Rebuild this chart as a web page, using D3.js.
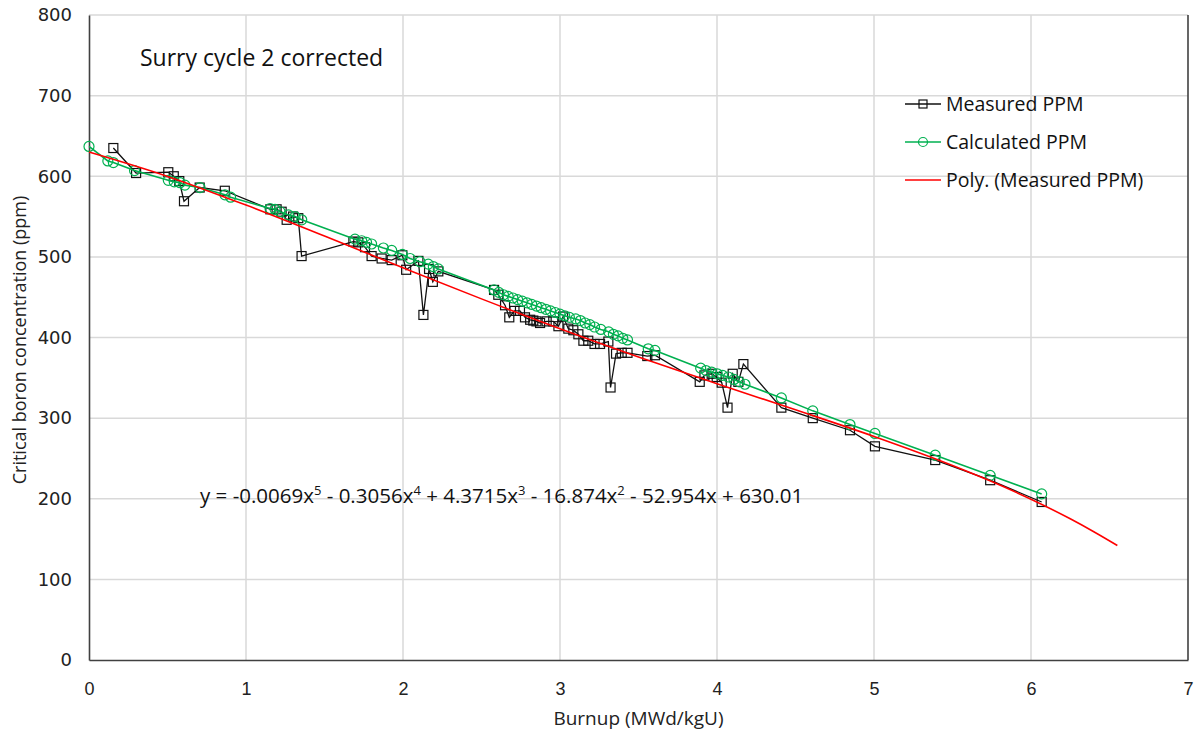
<!DOCTYPE html>
<html>
<head>
<meta charset="utf-8">
<script src="https://cdn.jsdelivr.net/npm/d3@7"></script>
<style>
  html, body { margin: 0; padding: 0; background: #fff; }
  svg { display: block; }
</style>
</head>
<body>
<svg id="chart" width="1196" height="738"></svg>
<script>
// ---- data ----
const measuredX = [0.155,0.30,0.505,0.54,0.575,0.605,0.705,0.865,1.155,1.195,1.227,1.259,1.30,1.333,1.354,
  1.684,1.715,1.758,1.80,1.864,1.928,1.996,2.02,2.098,2.13,2.166,2.19,2.225,
  2.58,2.607,2.65,2.677,2.71,2.745,2.777,2.81,2.83,2.85,2.873,2.915,2.957,2.99,3.02,3.053,3.085,3.117,3.149,3.18,3.22,3.255,3.308,3.322,3.357,3.393,3.43,3.556,3.605,
  3.89,3.92,3.966,3.998,4.03,4.067,4.10,4.136,4.168,4.41,4.61,4.847,5.006,5.39,5.74,6.068];
const measuredY = [635,604,605,600,594,569,586,582,559,559,556,546,550,548,501,
  519,518,512,501,498,496,502,484,495,428,485,469,482,
  459,453,440,425,433,433,425,422,421,420,418,420,420,414,426,411,409,404,396,396,392,392,395,338,380,381,381,377,378,
  345,353,355,351,344,313,355,345,367,313,300,285,265,248,223,196];

const calcX = [0.0,0.12,0.155,0.29,0.505,0.543,0.58,0.611,0.707,0.866,0.902,1.153,1.185,1.217,1.27,1.312,1.355,
  1.694,1.737,1.768,1.80,1.875,1.928,1.996,2.045,2.108,2.161,2.193,2.225,
  2.58,2.61,2.64,2.67,2.70,2.73,2.76,2.79,2.82,2.85,2.88,2.91,2.94,2.97,3.00,3.03,3.06,3.10,3.13,3.16,3.19,3.22,3.26,3.31,3.34,3.37,3.40,3.43,
  3.562,3.605,3.896,3.93,3.966,4.002,4.036,4.072,4.108,4.142,4.178,4.41,4.61,4.847,5.006,5.39,5.74,6.068];
const calcY = [637,619,617,607,595,593,592,589,586,577,574,560,559,556,552,550,546,
  522,520,518,516,511,508,503,498,494,491,488,485,
  459,456,453,451,449,447,445,443,441,439,437,435,433,431,429,427,425,423,421,418,416,413,410,407,404,402,399,397,
  386,384,362,359,357,355,353,351,348,345,342,325,309,292,281,254,229,206];

// polynomial trend line (Poly. Measured PPM)
const polyX = [0,0.5,1,1.5,2,2.5,3,3.5,4,4.5,5,5.5,5.75,6,6.25,6.4,6.55];
const polyY = [630.0,599.8,564.2,525.8,486.5,447.9,410.9,375.9,342.7,310.3,277.3,241.3,221.3,199.4,175.1,159.1,142.0];

const xTicks = [0,1,2,3,4,5,6,7];
const yTicks = [0,100,200,300,400,500,600,700,800];

const seriesNames = ["Measured PPM","Calculated PPM","Poly. (Measured PPM)"];
const chartTitle = "Surry cycle 2 corrected";
const xTitle = "Burnup (MWd/kgU)";
const yTitle = "Critical boron concentration (ppm)";

// ---- drawing ----
(function () {
const svg = d3.select("#chart");
const mL = 89, mR = 1188, mT = 15, mB = 660;
const x = d3.scaleLinear().domain([0,7]).range([mL,mR]);
const y = d3.scaleLinear().domain([0,800]).range([mB,mT]);

const GREEN = "#00b050", RED = "#ff0000", BLACK = "#111";

// gridlines
svg.append("g").selectAll("line").data(xTicks.slice(1, -1)).join("line")
  .attr("x1", d => x(d)).attr("x2", d => x(d)).attr("y1", mT).attr("y2", mB)
  .attr("stroke", "#d9d9d9").attr("stroke-width", 1.5);
svg.append("g").selectAll("line").data(yTicks.slice(1)).join("line")
  .attr("x1", mL).attr("x2", mR).attr("y1", d => y(d)).attr("y2", d => y(d))
  .attr("stroke", "#d9d9d9").attr("stroke-width", 1.5);

// axes
const xAxis = svg.append("g").attr("transform", `translate(0,${mB})`)
  .call(d3.axisBottom(x).tickValues(xTicks).tickFormat(d3.format("d")).tickSize(0).tickPadding(22));
xAxis.select(".domain").attr("stroke", "#404040").attr("stroke-width", 1.6);
xAxis.selectAll("text").attr("font-family", "'Liberation Sans Narrow','Liberation Sans',sans-serif")
  .attr("font-size", 18).attr("fill", "#222");

const yAxis = svg.append("g").attr("transform", `translate(${mL},0)`)
  .call(d3.axisLeft(y).tickValues(yTicks).tickFormat(d3.format("d")).tickSize(0).tickPadding(17));
yAxis.select(".domain").attr("stroke", "#404040").attr("stroke-width", 1.6);
yAxis.selectAll("text").attr("font-family", "'DejaVu Sans',sans-serif")
  .attr("font-size", 18).attr("fill", "#222");

// right border
svg.append("line").attr("x1", mR).attr("x2", mR).attr("y1", mT).attr("y2", mB)
  .attr("stroke", "#404040").attr("stroke-width", 1.6);

// series
const line = d3.line().x(d => x(d[0])).y(d => y(d[1]));
const measured = measuredX.map((v, i) => [v, measuredY[i]]);
const calc = calcX.map((v, i) => [v, calcY[i]]);
const poly = polyX.map((v, i) => [v, polyY[i]]);

svg.append("path").datum(measured).attr("d", line)
  .attr("fill", "none").attr("stroke", BLACK).attr("stroke-width", 1.3);
svg.append("g").selectAll("rect").data(measured).join("rect")
  .attr("x", d => x(d[0]) - 4.5).attr("y", d => y(d[1]) - 4.5)
  .attr("width", 9).attr("height", 9)
  .attr("fill", "none").attr("stroke", BLACK).attr("stroke-width", 1.2);

svg.append("path").datum(calc).attr("d", line)
  .attr("fill", "none").attr("stroke", GREEN).attr("stroke-width", 1.6);
svg.append("g").selectAll("circle").data(calc).join("circle")
  .attr("cx", d => x(d[0])).attr("cy", d => y(d[1])).attr("r", 5)
  .attr("fill", "none").attr("stroke", GREEN).attr("stroke-width", 1.2);

svg.append("path").datum(poly).attr("d", d3.line().x(d => x(d[0])).y(d => y(d[1])).curve(d3.curveMonotoneX))
  .attr("fill", "none").attr("stroke", RED).attr("stroke-width", 1.6);

// titles
const font = "'Open Sans','Noto Sans',sans-serif";
svg.append("text").attr("x", 140).attr("y", 66).text(chartTitle)
  .attr("font-family", font).attr("font-size", 23).attr("fill", "#111");
svg.append("text").attr("x", (mL + mR) / 2).attr("y", 725).attr("text-anchor", "middle").text(xTitle)
  .attr("font-family", font).attr("font-size", 19).attr("fill", "#222");
svg.append("text").attr("transform", "translate(26,340) rotate(-90)").attr("text-anchor", "middle").text(yTitle)
  .attr("font-family", font).attr("font-size", 18).attr("fill", "#222");

// equation
const eq = svg.append("text").attr("x", 200).attr("y", 503)
  .attr("font-family", font).attr("font-size", 20.5).attr("fill", "#111");
const eqParts = [["y = -0.0069x",""],["5","s"],[" - 0.3056x",""],["4","s"],[" + 4.3715x",""],["3","s"],[" - 16.874x",""],["2","s"],[" - 52.954x + 630.01",""]];
eqParts.forEach(p => {
  const t = eq.append("tspan").text(p[0]);
  if (p[1] === "s") t.attr("font-size", 13).attr("dy", -8);
  else t.attr("dy", p[0].startsWith(" ") ? 8 : 0);
});

// legend
const lg = svg.append("g").attr("transform", "translate(905,104)");
const rows = [{c: BLACK, m: "rect"}, {c: GREEN, m: "circle"}, {c: RED, m: null}];
rows.forEach((r, i) => {
  const g = lg.append("g").attr("transform", `translate(0,${i * 38})`);
  g.append("line").attr("x1", 0).attr("x2", 36).attr("y1", 0).attr("y2", 0)
    .attr("stroke", r.c).attr("stroke-width", r.m ? 1.4 : 1.6);
  if (r.m === "rect") g.append("rect").attr("x", 14).attr("y", -4).attr("width", 8).attr("height", 8)
    .attr("fill", "none").attr("stroke", r.c).attr("stroke-width", 1.2);
  if (r.m === "circle") g.append("circle").attr("cx", 18).attr("cy", 0).attr("r", 4.5)
    .attr("fill", "none").attr("stroke", r.c).attr("stroke-width", 1.2);
  g.append("text").attr("x", 41).attr("y", 7).text(seriesNames[i])
    .attr("font-family", font).attr("font-size", 19.5).attr("fill", "#111");
});
})();
</script>
</body>
</html>
